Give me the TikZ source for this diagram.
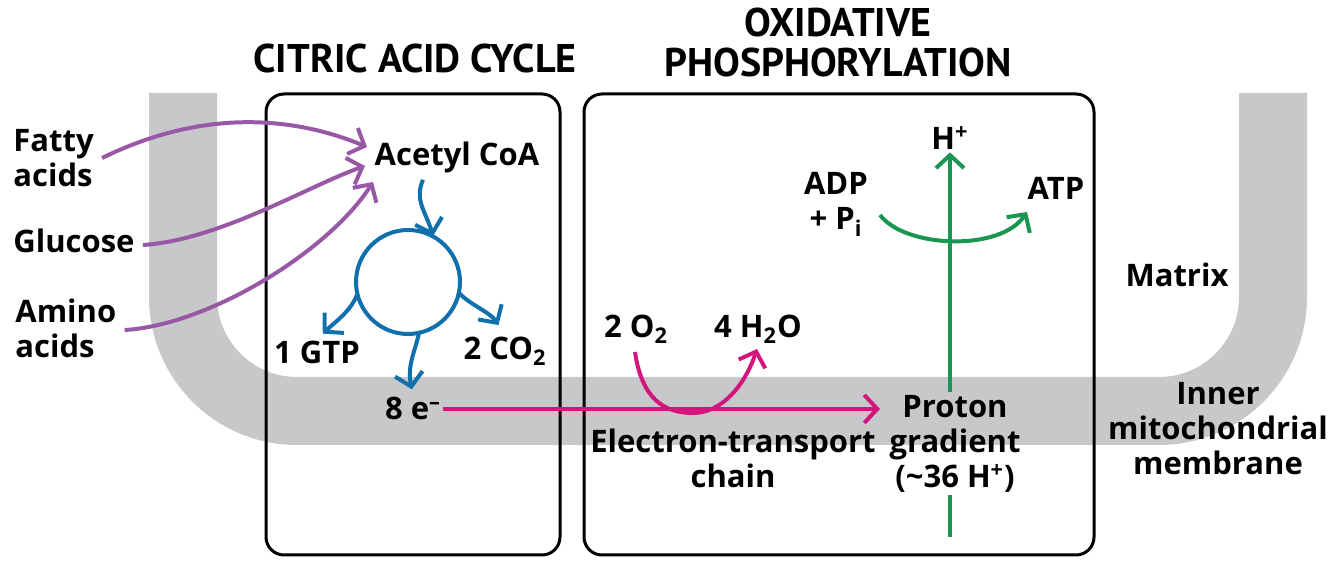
\documentclass[tikz,border=0pt]{standalone}
\usepackage{fontspec}
\setmainfont{Open Sans}
\newfontfamily\ttlfont{PT Sans}
\usetikzlibrary{arrows.meta}
\definecolor{band}{RGB}{199,200,202}
\definecolor{purp}{RGB}{153,88,166}
\definecolor{cblue}{RGB}{16,112,172}
\definecolor{mag}{RGB}{212,22,124}
\definecolor{cgreen}{RGB}{26,150,82}
\begin{document}
\begin{tikzpicture}[x=0.5pt,y=-0.5pt,
  lbl/.style={font=\fontsize{15.5}{17.75}\selectfont\bfseries, inner sep=1pt, align=center, anchor=base},
  ttl/.style={font=\ttlfont\fontsize{20}{20}\selectfont\bfseries, align=center, inner sep=0pt},
  procbox/.style={line width=1.5pt, rounded corners=9pt},
  arr/.style={line width=2pt, -{Straight Barb[length=6.5pt,width=14pt]}},
  parr/.style={arr, draw=purp},
  barr/.style={arr, draw=cblue},
  marr/.style={arr, draw=mag},
  garr/.style={arr, draw=cgreen}]
\useasboundingbox (0,0) rectangle (1334,566);
% membrane band
\draw[band, line width=34pt, rounded corners=57pt] (183,93) -- (183,411) -- (1273,411) -- (1273,93);
% boxes
\draw[procbox] (266,94) rectangle (560,555);
\draw[procbox] (584,94) rectangle (1094,555);
% titles
\node[ttl] (t1) at (415,59) {CITRIC ACID CYCLE};
\node[ttl] (t2) at (838,43) {OXIDATIVE\\PHOSPHORYLATION};
% labels (multi-line nodes: base = baseline of last line)
\node[lbl, align=left, anchor=base west] (fatty) at (11,187) {Fatty\\acids};
\node[lbl, anchor=base west] (glucose) at (11,253) {Glucose};
\node[lbl, align=left, anchor=base west] (amino) at (13,358) {Amino\\acids};
\node[lbl] (acetyl) at (457,166) {Acetyl CoA};
\node[lbl] (gtp) at (317,364) {1 GTP};
\node[lbl] (co2) at (505,360) {2 CO\textsubscript{2}};
\node[lbl] (elec) at (413,420) {8 e\textsuperscript{–}};
\node[lbl] (o2) at (636,338) {2 O\textsubscript{2}};
\node[lbl] (h2o) at (758,338) {4 H\textsubscript{2}O};
\node[lbl] (adp) at (836,230) {ADP\\+ P\textsubscript{i}};
\node[lbl] (hplus) at (950,150) {H\textsuperscript{+}};
\node[lbl] (atp) at (1056,200) {ATP};
\node[lbl] (matrix) at (1177,287) {Matrix};
\node[lbl] (inner) at (1218,475) {Inner\\mitochondrial\\membrane};
\node[lbl] (proton) at (955,488) {Proton\\gradient\\(\textasciitilde36 H\textsuperscript{+})};
\node[lbl] (etc) at (733,488) {Electron-transport\\chain};
% purple inputs
\draw[parr] (fatty.east |- 0,158) ++(6,0) .. controls (200,110) and (290,115) .. (367,147);
\draw[parr] (glucose.east |- 0,245) ++(6,0) .. controls (220,240) and (310,185) .. (365,166);
\draw[parr] (amino.east |- 0,330) ++(6,0) .. controls (210,325) and (330,250) .. (373,182);
% citric acid cycle
\coordinate (cc) at (408,282);
\draw[cblue, line width=2pt] (cc) circle[radius=26pt];
\draw[barr] (acetyl.south -| 423,0) ++(0,4) .. controls (414,200) and (426,212) .. (433,236);
\coordinate (g0) at (357,295);
\coordinate (c0) at (458,292);
\coordinate (e0) at (419,333);
\draw[barr, shorten >=4pt] (g0) .. controls (350,312) and (335,322) .. (gtp.north);
\draw[barr, shorten >=6pt] (c0) .. controls (470,305) and (490,312) .. (co2.north);
\draw[barr, shorten >=3pt] (e0) .. controls (415,352) and (407,365) .. (elec.north);
% electron transport
\draw[marr] (elec.east) -- (elec.east -| 880,0);
\coordinate (o2s) at (635,352);
\coordinate (h2oe) at (757,349);
\draw[marr] (o2s) .. controls (642,400) and (665,413) .. (693,413) .. controls (722,413) and (745,385) .. (h2oe);
% proton gradient / ATP synthase
\coordinate (gbot) at (950,537);
\draw[cgreen, line width=2pt] (gbot) -- (gbot |- proton.south);
\draw[garr] (gbot |- proton.north) -- (gbot |- hplus.south);
\coordinate (adps) at (880,215);
\draw[garr] (adps) .. controls (905,248) and (1000,252) .. (1027,212);
\end{tikzpicture}
\end{document}
